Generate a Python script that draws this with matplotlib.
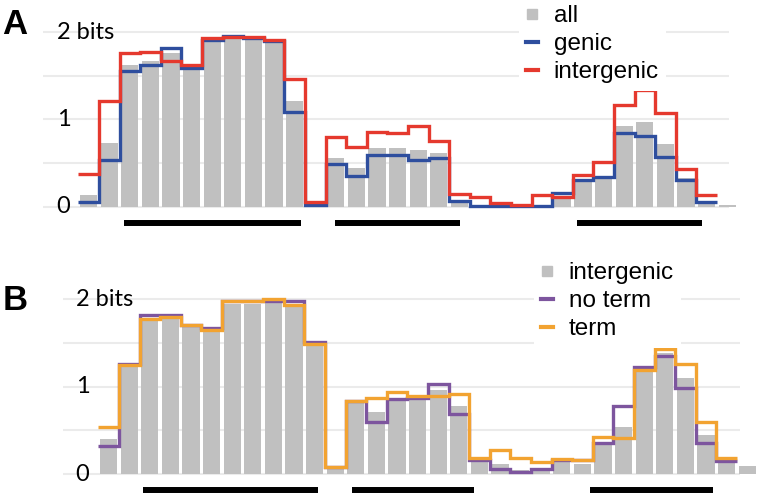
import numpy as np
import matplotlib
matplotlib.use("Agg")
import matplotlib.pyplot as plt
from matplotlib.lines import Line2D

# Panel A: information content per position (bits)
all_a = [0.13, 0.73, 1.62, 1.67, 1.76, 1.59, 1.91, 1.93, 1.91, 1.89, 1.21, 0.03,
         0.56, 0.44, 0.67, 0.67, 0.65, 0.62, 0.04, 0.01, 0.0, 0.0, 0.01, 0.10,
         0.29, 0.34, 0.93, 0.975, 0.715, 0.325, 0.06, 0.02]
genic_a = [0.057, 0.53, 1.56, 1.625, 1.82, 1.59, 1.91, 1.96, 1.93, 1.90, 1.09, 0.02,
           0.486, 0.355, 0.593, 0.593, 0.535, 0.56, 0.06, 0.01, 0.01, 0.01, 0.01, 0.155,
           0.306, 0.345, 0.845, 0.815, 0.568, 0.306, 0.05]
intergenic_a = [0.38, 1.21, 1.76, 1.77, 1.67, 1.625, 1.93, 1.95, 1.95, 1.91, 1.46, 0.057,
                0.795, 0.69, 0.855, 0.85, 0.93, 0.755, 0.14, 0.115, 0.045, 0.02, 0.13, 0.11,
                0.36, 0.515, 1.17, 1.34, 1.07, 0.43, 0.13]

# Panel B
intergenic_b = [0.40, 1.24, 1.76, 1.78, 1.70, 1.63, 1.95, 1.95, 1.97, 1.915, 1.477, 0.07,
                0.81, 0.71, 0.84, 0.866, 0.96, 0.778, 0.16, 0.12, 0.05, 0.07, 0.15, 0.12,
                0.355, 0.54, 1.167, 1.38, 1.10, 0.446, 0.13, 0.09]
noterm_b = [0.32, 1.255, 1.82, 1.82, 1.71, 1.675, 1.975, 1.975, 1.985, 1.975, 1.51, 0.084,
            0.835, 0.60, 0.86, 0.87, 1.03, 0.69, 0.16, 0.06, 0.027, 0.06, 0.165, 0.155,
            0.36, 0.775, 1.225, 1.35, 0.985, 0.355, 0.15]
term_b = [0.535, 1.248, 1.775, 1.795, 1.71, 1.65, 1.975, 1.975, 2.0, 1.93, 1.485, 0.084,
          0.83, 0.87, 0.94, 0.895, 0.896, 0.92, 0.18, 0.27, 0.18, 0.134, 0.17, 0.155,
          0.427, 0.41, 1.185, 1.435, 1.265, 0.595, 0.18]

tick_vals = [0, 1, 2]
tick_labels = ["0", "1", "2 bits"]
grid_levels = [0, 0.5, 1, 1.5, 2]

# black bars under the motif halves (bin units)
segs_a = [(1.7, 10.3), (11.95, 18.05), (23.7, 29.8)]
segs_b = [(1.65, 10.15), (11.8, 17.75), (23.35, 29.35)]

GRAY = "#c0c0c0"
BLUE = "#2e4e9e"
RED = "#e5392e"
PURPLE = "#7d559e"
ORANGE = "#f2a331"

plt.rcParams["font.family"] = ["Lato", "DejaVu Sans"]

W, H = 760, 498
fig = plt.figure(figsize=(W / 100, H / 100), dpi=100)


def px_axes(left, top, right, bottom):
    return fig.add_axes([left / W, 1 - bottom / H, (right - left) / W, (bottom - top) / H])


def draw_panel(ax, bars, lines, colors, segs, grid_x1, label_x):
    x = np.arange(len(bars))
    ax.hlines(grid_levels, -2.2, grid_x1, color="#ebebeb", lw=1.5, zorder=0)
    ax.bar(x, bars, width=0.84, color=GRAY, zorder=1)
    for vals, c in zip(lines, colors):
        edges = np.arange(len(vals) + 1) - 0.5
        ax.stairs(vals, edges, baseline=None, color=c, lw=2.4, zorder=3)
    for a, b in segs:
        ax.hlines(-0.183, a, b, color="black", lw=4.3, zorder=3, clip_on=False)
    for t, lab in zip(tick_vals, tick_labels):
        ax.text(label_x, t, lab, ha="left", va="center", fontsize=17, zorder=2)
    ax.axis("off")


# panel A: bin i centre at 88.6 + 20.6*i px, y=0 at 206.7 px, 87.2 px per bit
axA = px_axes(40, 5, 745, 240)
axA.set_xlim((40 - 88.6) / 20.6, (745 - 88.6) / 20.6)
axA.set_ylim(-(240 - 206.7) / 87.2, (206.7 - 5) / 87.2)
draw_panel(axA, all_a, [genic_a, intergenic_a], [BLUE, RED], segs_a, 31.1, -1.55)

# panel B: bin i centre at 108.6 + 20.6*i px, y=0 at 474 px
axB = px_axes(40, 255, 760, 498)
axB.set_xlim((40 - 108.6) / 20.6, (760 - 108.6) / 20.6)
axB.set_ylim(-(498 - 474) / 87.35, (474 - 255) / 87.35)
draw_panel(axB, intergenic_b, [noterm_b, term_b], [PURPLE, ORANGE], segs_b, 30.66, -1.6)

leg_font = {"family": "Liberation Sans", "size": 17.5}


def make_legend(ax, labels, colors, anchor):
    handles = [Line2D([], [], marker="s", ls="none", color=GRAY, markersize=7.5)]
    handles += [Line2D([], [], color=c, lw=3) for c in colors]
    ax.legend(handles, labels, loc="upper left", bbox_to_anchor=anchor,
              bbox_transform=fig.transFigure, prop=leg_font, frameon=True,
              facecolor="white", edgecolor="none", framealpha=1, fancybox=False,
              borderpad=0.3, borderaxespad=0, handlelength=0.5, handletextpad=0.62,
              labelspacing=0.25)


make_legend(axA, ["all", "genic", "intergenic"], [BLUE, RED], (519 / W, 1.004))
make_legend(axB, ["intergenic", "no term", "term"], [PURPLE, ORANGE], (534 / W, 1 - 255 / H))

fig.text(2 / W, 1 - 25 / H, "A", fontsize=25, fontweight="heavy", family="Liberation Sans",
         ha="left", va="center")
fig.text(3 / W, 1 - 300 / H, "B", fontsize=25, fontweight="heavy", family="Liberation Sans",
         ha="left", va="center")

fig.savefig("out.png", dpi=100)
